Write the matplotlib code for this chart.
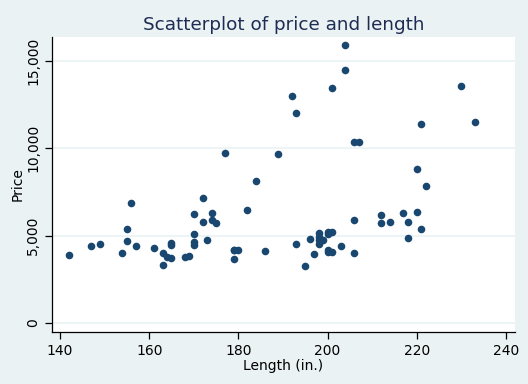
import matplotlib
matplotlib.use("Agg")
import matplotlib.pyplot as plt
from matplotlib.ticker import FuncFormatter

# auto dataset: price vs length
length = [186, 173, 168, 196, 222, 218, 170, 200, 207, 200, 221, 204, 204, 163,
          212, 193, 200, 179, 197, 163, 206, 206, 220, 147, 179, 233, 230, 201,
          169, 221, 212, 198, 217, 195, 220, 198, 198, 218, 200, 180, 206, 170,
          157, 165, 182, 201, 214, 198, 201, 199, 203, 179, 189, 174, 177, 170,
          165, 170, 184, 161, 172, 149, 154, 192, 142, 164, 174, 165, 175, 172,
          155, 155, 156, 193]
price = [4099, 4749, 3799, 4816, 7827, 5788, 4453, 5189, 10372, 4082, 11385,
         14500, 15906, 3299, 5705, 4504, 5104, 3667, 3955, 3984, 4010, 5886,
         6342, 4389, 4187, 11497, 13594, 13466, 3829, 5379, 6165, 4516, 6303,
         3291, 8814, 5172, 4733, 4890, 4181, 4195, 10371, 4647, 4425, 4482,
         6486, 4060, 5798, 4934, 5222, 4723, 4424, 4172, 9690, 6295, 9735,
         6229, 4589, 5079, 8129, 4296, 5799, 4499, 3995, 12990, 3895, 3798,
         5899, 3748, 5719, 7140, 5397, 4697, 6850, 11995]

x_ticks = [140, 160, 180, 200, 220, 240]
y_ticks = [0, 5000, 10000, 15000]

bg = '#eaf2f3'
navy = '#1a476f'

fig = plt.figure(figsize=(5.28, 3.84), dpi=100, facecolor=bg)
ax = fig.add_axes([0.0985, 0.1354, 0.8765, 0.7682])
ax.set_facecolor('white')

ax.scatter(length, price, s=30, color=navy, zorder=3, linewidths=0)

ax.set_xlim(138.2, 242.0)
ax.set_ylim(-515, 16370)
ax.set_xticks(x_ticks)
ax.set_yticks(y_ticks)
ax.yaxis.set_major_formatter(FuncFormatter(lambda v, p: f"{int(v):,}"))
ax.grid(axis='y', color=bg, linewidth=1.2, zorder=0)

for s in ['top', 'right']:
    ax.spines[s].set_visible(False)
for s in ['left', 'bottom']:
    ax.spines[s].set_color('black')
    ax.spines[s].set_linewidth(0.9)

ax.tick_params(axis='both', direction='out', length=5, width=0.9,
               labelsize=10, colors='black')
for lbl in ax.get_yticklabels():
    lbl.set_rotation(90)
    lbl.set_va('center')

ax.set_xlabel('Length (in.)', fontsize=10, labelpad=1)
ax.set_ylabel('Price', fontsize=10, labelpad=1)
ax.set_title('Scatterplot of price and length', fontsize=13.2,
             color='#1e2c53', pad=5)

fig.savefig('out.png', dpi=100, facecolor=bg)
